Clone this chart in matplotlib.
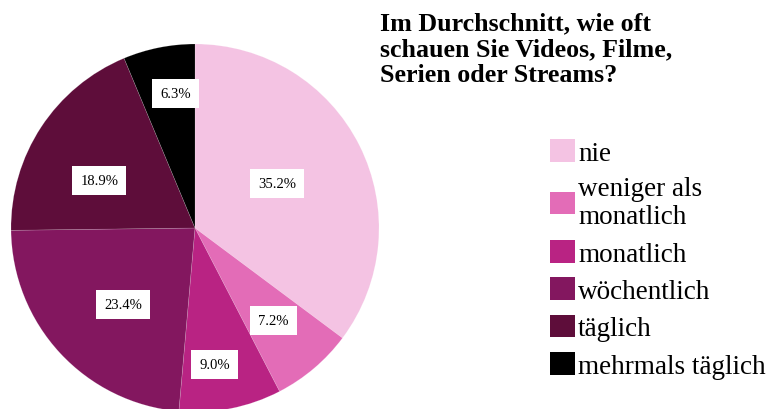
import matplotlib
matplotlib.use("Agg")
import matplotlib.pyplot as plt
from matplotlib.patches import Patch
import numpy as np

categories = ["nie", "weniger als\nmonatlich", "monatlich", "wöchentlich", "täglich", "mehrmals täglich"]
values = [35.2, 7.2, 9.0, 23.4, 18.9, 6.3]
colors = ["#F4C3E3", "#E36CB7", "#B92383", "#83175F", "#5E0D3A", "#000000"]
title = "Im Durchschnitt, wie oft\nschauen Sie Videos, Filme,\nSerien oder Streams?"

# style: radial placement of each percentage label (fraction of radius)
label_r = [0.51, 0.66, 0.75, 0.57, 0.58, 0.74]
label_dang = [-2, 0, 3, -4, -7, 3]  # small angular nudges (degrees, clockwise)

W, H = 769, 410
fig = plt.figure(figsize=(W / 100, H / 100), dpi=100)
ax = fig.add_axes([11 / W, -3 / H, 368 / W, 368 / H])
wedges, _ = ax.pie(values, colors=colors, startangle=90, counterclock=False,
                   wedgeprops=dict(linewidth=0.4, edgecolor=(1, 1, 1, 0.25)))
for w, v, r, da in zip(wedges, values, label_r, label_dang):
    ang = np.deg2rad((w.theta1 + w.theta2) / 2 - da)
    ax.text(r * np.cos(ang), r * np.sin(ang), f"{v:.1f}%", ha="center", va="center",
            family="Liberation Serif", fontsize=10.5,
            bbox=dict(facecolor="white", edgecolor="none", boxstyle="square,pad=0.55"))
ax.set_xlim(-1, 1)
ax.set_ylim(-1, 1)

fig.text(380 / W, 1 - 12 / H, title, ha="left", va="top", fontsize=18.7,
         fontweight="bold", family="Liberation Serif", linespacing=1.18)

handles = [Patch(facecolor=c, edgecolor="none") for c in colors]
leg = fig.legend(handles, categories, loc="upper left",
                 bbox_to_anchor=(550 / W, 1 - 140 / H), frameon=False,
                 prop=dict(family="Liberation Serif", size=19.5),
                 handlelength=0.92, handleheight=0.92, handletextpad=0.12,
                 labelspacing=0.39, borderpad=0, borderaxespad=0)
for t in leg.get_texts():
    t.set_linespacing(1.16)

fig.savefig("out.png", dpi=100)
